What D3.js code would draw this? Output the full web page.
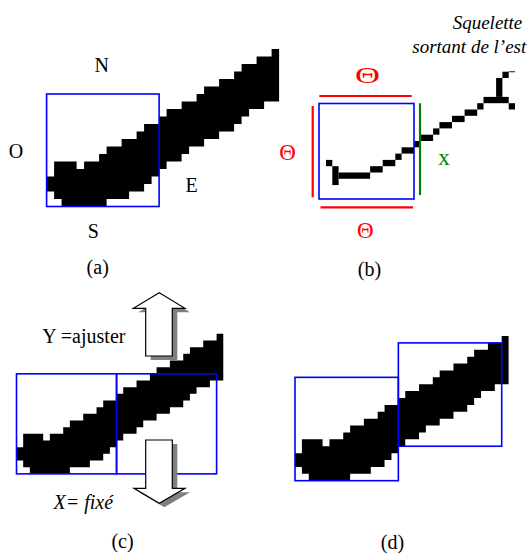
<!DOCTYPE html>
<html><head><meta charset="utf-8">
<script src="https://cdn.jsdelivr.net/npm/d3@7"></script>
<style>body{margin:0;background:#fff} svg{display:block}</style>
</head><body>
<script>
// ---- data ----
// pixelised stroke: per column, top row and bottom row (exclusive)
const strokeTop    = [17,15,15,15,16,15,15,14,13,13,12,12,11,10,10,9,8,8,7,7,6,5,5,4,4,3,2,2,1,1,0];
const strokeBottom = [19,20,21,21,21,21,21,21,20,20,20,19,19,18,17,16,15,15,14,13,13,12,12,11,11,10,9,8,8,7,7];
// skeleton pixels [col,row,w,h]
const skeletonPixels = [[0,14,1,1],[1,15,1,3],[2,16,5,1],[7,15,2,1],[9,14,2,1],[11,13,1,1],[12,12,2,1],[14,11,1,1],[15,10,2,1],[17,9,1,1],[18,8,2,1],[20,7,2,1],[22,6,2,1],[24,5,1,1],[25,4,4,1],[27,1,1,3],[28,0,1,1],[29,5,1,1]];
// analysis windows [col,row,size] in grid cells
const windowsA = [[0,6,15]];
const windowsC = [[0,6,15],[15,6,15]];
const windowsD = [[0,6,15],[15,1,15]];
const compassLabels = ["N","O","E","S"];
const captions = ["(a)","(b)","(c)","(d)"];
const thetaLabel = "Θ";
const crossLabel = "x";
const noteLines = ["Squelette","sortant de l’est"];
const adjustLabels = ["Y =ajuster","X= fixé"];

// ---- layout ----
const W = 531, H = 554;
const svg = d3.select("body").append("svg").attr("width", W).attr("height", H)
  .style("font-family","'Liberation Serif','Times New Roman',serif");

function grid(x0, y0, c, n) {
  return {x: d3.scaleLinear().domain([0,n]).range([x0, x0+n*c]),
          y: d3.scaleLinear().domain([0,n]).range([y0, y0+n*c])};
}

function strokePath(s) {
  const pts = [];
  strokeTop.forEach((t,i) => { pts.push([s.x(i), s.y(t)], [s.x(i+1), s.y(t)]); });
  for (let i = strokeBottom.length-1; i >= 0; i--) {
    pts.push([s.x(i+1), s.y(strokeBottom[i])], [s.x(i), s.y(strokeBottom[i])]);
  }
  return d3.line()(pts) + "Z";
}

function drawPanel(s, wins) {
  const g = svg.append("g");
  g.append("path").attr("d", strokePath(s)).attr("fill","#000");
  g.selectAll("rect.win").data(wins).join("rect").attr("class","win")
    .attr("x", d => s.x(d[0])).attr("y", d => s.y(d[1]))
    .attr("width", d => s.x(d[0]+d[2]) - s.x(d[0]))
    .attr("height", d => s.y(d[1]+d[2]) - s.y(d[1]))
    .attr("fill","none").attr("stroke","#0000ff").attr("stroke-width",1.6);
  return g;
}

function text(t, x, y, opts={}) {
  const e = svg.append("text").attr("x",x).attr("y",y).text(t)
    .attr("font-size", opts.size || 20)
    .attr("text-anchor", opts.anchor || "middle")
    .attr("fill", opts.fill || "#000");
  if (opts.italic) e.attr("font-style","italic");
  if (opts.len) e.attr("textLength", opts.len).attr("lengthAdjust","spacingAndGlyphs");
  return e;
}

// panel (a)
const sA = grid(46.6, 49, 7.5, 31);
drawPanel(sA, windowsA);
text(compassLabels[0], 101.7, 71.6);
text(compassLabels[1], 16, 158.3);
text(compassLabels[2], 191.7, 192.3);
text(compassLabels[3], 93.3, 237.7);
text(captions[0], 97.7, 274);

// panel (b)
const sB = grid(326, 71.7, 6.3, 31);
svg.append("g").selectAll("rect").data(skeletonPixels).join("rect")
  .attr("x", d => sB.x(d[0])).attr("y", d => sB.y(d[1]))
  .attr("width", d => sB.x(d[0]+d[2]) - sB.x(d[0]))
  .attr("height", d => sB.y(d[1]+d[3]) - sB.y(d[1]))
  .attr("fill","#000");
svg.append("rect").attr("x", sB.x(29)).attr("y", sB.y(0)-0.6)
  .attr("width", sB.x(30)-sB.x(29)).attr("height",1.2).attr("fill","#444");
svg.append("rect").attr("x",319).attr("y",103.5).attr("width",95).attr("height",95.5)
  .attr("fill","none").attr("stroke","#0000ff").attr("stroke-width",1.6);
svg.append("line").attr("x1",319.3).attr("x2",411.7).attr("y1",96).attr("y2",96)
  .attr("stroke","#ff0000").attr("stroke-width",2.2);
svg.append("line").attr("x1",320.5).attr("x2",413).attr("y1",207.3).attr("y2",207.3)
  .attr("stroke","#ff0000").attr("stroke-width",2.2);
svg.append("line").attr("x1",312.7).attr("x2",312.7).attr("y1",106).attr("y2",197.3)
  .attr("stroke","#ff0000").attr("stroke-width",2.2);
svg.append("line").attr("x1",420).attr("x2",420).attr("y1",103.3).attr("y2",195)
  .attr("stroke","#008000").attr("stroke-width",2.2);
text(thetaLabel, 367.5, 82.5, {size:23, fill:"#ff0000", len:25});
text(thetaLabel, 287.5, 160, {size:23, fill:"#ff0000"});
text(thetaLabel, 365.3, 238.3, {size:23, fill:"#ff0000"});
text(crossLabel, 444, 165, {size:23, fill:"#008000"});
text(noteLines[0], 487.5, 29.3, {size:19, italic:true});
text(noteLines[1], 469.3, 53.3, {size:19, italic:true});
text(captions[1], 369.5, 276);

// panel (c)
const sC = grid(16.5, 333.8, 6.67, 31);
drawPanel(sC, windowsC);
function arrow(pts, dx, dy) {
  const g = svg.append("g");
  g.append("polygon").attr("points", pts.map(p => [p[0]+dx, p[1]+dy].join(",")).join(" "))
    .attr("fill","#808080");
  g.append("polygon").attr("points", pts.map(p => p.join(",")).join(" "))
    .attr("fill","#fff").attr("stroke","#000").attr("stroke-width",1.2);
}
arrow([[159.3,292.7],[185,308.3],[172.3,308.3],[172.3,356],[145.7,356],[145.7,308.3],[133.3,308.3]], 5, 4);
arrow([[145.7,440],[172.3,440],[172.3,488.3],[185,488.3],[159.3,503.3],[134,488.3],[145.7,488.3]], 5, 4);
text(adjustLabels[0], 83.8, 343.3);
text(adjustLabels[1], 83.3, 508.5, {italic:true});
text(captions[2], 122.5, 547.5);

// panel (d)
const sD = grid(295, 336, 6.89, 31);
drawPanel(sD, windowsD);
text(captions[3], 392.5, 549);
</script>
</body></html>
